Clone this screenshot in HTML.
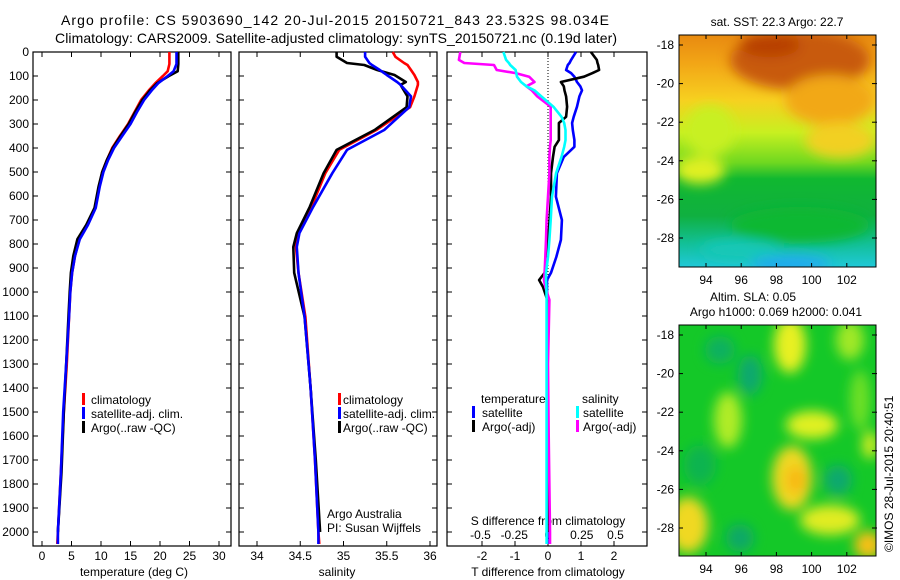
<!DOCTYPE html>
<html><head><meta charset="utf-8"><style>
html,body{margin:0;padding:0;background:#fff;width:900px;height:580px;overflow:hidden}
svg{display:block;font-family:"Liberation Sans",Arial,sans-serif}
text{fill:#000}
</style></head><body>
<svg id="root" width="900" height="580" viewBox="0 0 900 580" xmlns="http://www.w3.org/2000/svg">
<defs>
<filter id="blur6" x="-20%" y="-20%" width="140%" height="140%"><feGaussianBlur stdDeviation="6"/></filter>
<linearGradient id="sstgrad" x1="0" y1="0" x2="0" y2="1">
<stop offset="0" stop-color="#e88a10"/><stop offset="0.12" stop-color="#f2a516"/>
<stop offset="0.28" stop-color="#f7d020"/><stop offset="0.42" stop-color="#c8f020"/>
<stop offset="0.55" stop-color="#6fd820"/><stop offset="0.62" stop-color="#10b830"/>
<stop offset="0.78" stop-color="#10b040"/><stop offset="0.9" stop-color="#12c098"/>
<stop offset="1" stop-color="#20c8d8"/></linearGradient>
<clipPath id="clip1"><rect x="679" y="35" width="197" height="232"/></clipPath>
<clipPath id="clip2"><rect x="679" y="325" width="197" height="231"/></clipPath>
</defs>

<g font-size="14">
<text x="335" y="25" text-anchor="middle" textLength="548">Argo profile: CS 5903690_142 20-Jul-2015 20150721_843 23.532S 98.034E</text>
<text x="336" y="43" text-anchor="middle" textLength="562">Climatology: CARS2009. Satellite-adjusted climatology: synTS_20150721.nc (0.19d later)</text>
</g>

<g id="axes" font-size="12"></g>
<g id="series"></g>

<g font-size="12">
<rect x="82" y="393" width="3" height="12" fill="#ff0000"/><text x="91" y="404">climatology</text>
<rect x="82" y="407" width="3" height="12" fill="#0000ff"/><text x="91" y="418">satellite-adj. clim.</text>
<rect x="82" y="421" width="3" height="12" fill="#000"/><text x="91" y="432">Argo(..raw -QC)</text>
</g>
<g font-size="12">
<rect x="338" y="393" width="3" height="12" fill="#ff0000"/><text x="343" y="404">climatology</text>
<rect x="338" y="407" width="3" height="12" fill="#0000ff"/><text x="343" y="418">satellite-adj. clim.</text>
<rect x="338" y="421" width="3" height="12" fill="#000"/><text x="343" y="432">Argo(..raw -QC)</text>
</g>
<g font-size="12">
<text x="327" y="518">Argo Australia</text><text x="327" y="532">PI: Susan Wijffels</text>
</g>
<g font-size="12">
<text x="481" y="403">temperature</text>
<rect x="472" y="406" width="3" height="12" fill="#0000ff"/><text x="482" y="417">satellite</text>
<rect x="472" y="420" width="3" height="12" fill="#000"/><text x="482" y="431">Argo(-adj)</text>
<text x="582" y="403">salinity</text>
<rect x="576" y="406" width="3" height="12" fill="#00ffff"/><text x="583" y="417">satellite</text>
<rect x="576" y="420" width="3" height="12" fill="#ff00ff"/><text x="583" y="431">Argo(-adj)</text>
</g>

<g>
<text x="777" y="26" text-anchor="middle" font-size="12">sat. SST: 22.3 Argo: 22.7</text>
<g clip-path="url(#clip1)">
<rect x="679" y="35" width="197" height="232" fill="url(#sstgrad)"/>
<g filter="url(#blur6)">
<ellipse cx="800" cy="60" rx="70" ry="30" fill="#c85a08"/>
<ellipse cx="770" cy="45" rx="30" ry="12" fill="#b84004"/>
<ellipse cx="830" cy="100" rx="45" ry="25" fill="#f2a818"/>
<ellipse cx="710" cy="130" rx="25" ry="25" fill="#c8f020"/>
<ellipse cx="840" cy="140" rx="35" ry="18" fill="#f2d020"/>
<ellipse cx="700" cy="170" rx="25" ry="14" fill="#e0f020"/>
<ellipse cx="800" cy="225" rx="70" ry="18" fill="#10b830"/>
<ellipse cx="740" cy="250" rx="40" ry="10" fill="#18c8b8"/>
<ellipse cx="790" cy="264" rx="40" ry="8" fill="#20a8f0"/>
</g></g>
<rect x="679" y="35" width="197" height="232" fill="none" stroke="#000"/>
<g id="map1ticks" font-size="12"></g>
</g>

<g>
<text x="753" y="301" text-anchor="middle" font-size="12">Altim. SLA: 0.05</text>
<text x="776" y="316" text-anchor="middle" font-size="12">Argo h1000: 0.069 h2000: 0.041</text>
<g clip-path="url(#clip2)">
<rect x="679" y="325" width="197" height="231" fill="#14c828"/>
<g filter="url(#blur6)">
<ellipse cx="790" cy="345" rx="16" ry="28" fill="#e8f020"/>
<ellipse cx="850" cy="340" rx="14" ry="20" fill="#a0e828"/>
<ellipse cx="860" cy="400" rx="10" ry="30" fill="#70e028"/>
<ellipse cx="812" cy="425" rx="26" ry="14" fill="#e0f020"/>
<ellipse cx="728" cy="420" rx="14" ry="28" fill="#b0ec28"/>
<ellipse cx="792" cy="478" rx="20" ry="32" fill="#f0d820"/>
<ellipse cx="796" cy="480" rx="10" ry="14" fill="#f8b818"/>
<ellipse cx="688" cy="525" rx="20" ry="28" fill="#f0d820"/>
<ellipse cx="830" cy="520" rx="30" ry="15" fill="#e0ec20"/>
<ellipse cx="868" cy="545" rx="14" ry="14" fill="#f8c018"/>
<ellipse cx="870" cy="445" rx="8" ry="14" fill="#d0ec20"/>
<ellipse cx="750" cy="375" rx="12" ry="20" fill="#10a870"/>
<ellipse cx="720" cy="350" rx="15" ry="14" fill="#10b060"/>
<ellipse cx="838" cy="480" rx="14" ry="15" fill="#10a870"/>
<ellipse cx="740" cy="538" rx="14" ry="14" fill="#10a868"/>
<ellipse cx="700" cy="465" rx="16" ry="20" fill="#10b450"/>
</g></g>
<rect x="679" y="325" width="197" height="231" fill="none" stroke="#000"/>
<g id="map2ticks" font-size="12"></g>
</g>

<text x="0" y="0" font-size="12" transform="translate(893,552) rotate(-90)">©IMOS 28-Jul-2015 20:40:51</text>
</svg>
<script>
// ---------- data ----------
var tDepth = [0, 50, 80, 100, 130, 160, 200, 250, 300, 350, 400, 450, 500, 560, 650, 720, 780, 850, 920, 1000, 1100, 1300, 1500, 1750, 2000, 2050];
var tClim  = [21.6, 21.6, 21.3, 20.5, 19.2, 18.1, 16.8, 15.7, 14.6, 13.2, 11.9, 11.0, 10.2, 9.7, 9.0, 7.7, 6.3, 5.6, 5.1, 4.8, 4.6, 4.2, 3.7, 3.2, 2.7, 2.6];
var tSat   = [22.8, 22.8, 22.3, 21.3, 19.7, 18.6, 17.3, 16.1, 15.0, 13.6, 12.2, 11.2, 10.4, 9.8, 9.1, 7.8, 6.4, 5.6, 5.1, 4.8, 4.6, 4.1, 3.6, 3.2, 2.7, 2.7];
var tArgo  = [23.1, 23.1, 23.0, 21.5, 19.5, 18.3, 17.0, 15.8, 14.7, 13.3, 12.0, 11.0, 10.2, 9.6, 8.9, 7.5, 6.0, 5.3, 4.9, 4.7, 4.5, 4.1, 3.7, 3.3, 2.7];
var sDepth = [0, 20, 46, 54, 75, 96, 125, 137, 185, 230, 325, 408, 505, 645, 755, 812, 920, 1104, 1400, 1700, 2000, 2050];
var sClim  = [35.57, 35.6, 35.7, 35.74, 35.78, 35.82, 35.86, 35.86, 35.82, 35.77, 35.38, 34.95, 34.79, 34.63, 34.48, 34.45, 34.48, 34.56, 34.62, 34.67, 34.71, 34.72];
var sSat   = [35.25, 35.25, 35.3, 35.33, 35.42, 35.5, 35.62, 35.66, 35.78, 35.76, 35.47, 35.04, 34.87, 34.65, 34.49, 34.46, 34.48, 34.55, 34.62, 34.67, 34.71, 34.71];
var sArgo  = [34.92, 34.92, 35.04, 35.24, 35.39, 35.59, 35.72, 35.66, 35.74, 35.73, 35.36, 34.92, 34.77, 34.61, 34.46, 34.42, 34.43, 34.55, 34.62, 34.68, 34.73];
var dDepth = [0, 33, 46, 54, 75, 88, 103, 125, 143, 160, 185, 228, 270, 296, 325, 367, 395, 437, 505, 603, 700, 783, 854, 920, 950, 979, 1033, 1300, 1600, 2000, 2050];
var dTSat  = [0.85, 0.7, 0.65, 0.6, 0.55, 0.7, 0.8, 0.88, 0.98, 1.03, 0.95, 0.88, 0.78, 0.73, 0.75, 0.8, 0.8, 0.48, 0.27, 0.24, 0.42, 0.39, 0.25, 0.09, -0.03, -0.03, -0.03, -0.03, -0.02, -0.02, -0.02];
var dTArgo = [1.3, 1.48, 1.5, 1.52, 1.55, 1.35, 1.09, 0.39, 0.48, 0.5, 0.55, 0.58, 0.55, 0.33, 0.33, 0.33, 0.2, 0.15, 0.09, 0.09, 0.05, 0.0, -0.03, -0.1, -0.27, -0.15, -0.02, -0.02, -0.02, -0.02];
var dSSat  = [-0.33, -0.31, -0.29, -0.28, -0.24, -0.235, -0.23, -0.2, -0.16, -0.1, -0.05, 0.04, 0.1, 0.12, 0.13, 0.13, 0.12, 0.1, 0.06, 0.03, 0.02, 0.01, 0.0, -0.015, -0.015, -0.012, -0.01, -0.01, -0.01, -0.01, -0.01];
var dSArgo = [-0.65, -0.66, -0.62, -0.4, -0.38, -0.24, -0.14, -0.1, -0.16, -0.12, -0.08, 0.02, 0.02, 0.02, 0.02, 0.02, 0.015, 0.01, 0.01, 0.0, -0.01, -0.015, -0.02, -0.025, -0.03, -0.02, 0.01, 0.0, 0.005, 0.015, 0.015];
var depthTicks = [0,100,200,300,400,500,600,700,800,900,1000,1100,1200,1300,1400,1500,1600,1700,1800,1900,2000];
var tempTicks = [0,5,10,15,20,25,30];
var salTicks = ["34","34.5","35","35.5","36"];
var tdTicks = ["-2","-1","0","1","2"];
var sdTicks = ["-0.5","-0.25","0","0.25","0.5"];
var lonTicks = ["94","96","98","100","102"];
var lat1Ticks = ["-18","-20","-22","-24","-26","-28"];
var lat2Ticks = ["-18","-20","-22","-24","-26","-28"];

// ---------- scales ----------
var TOP=52, BOT=546;
function yD(d){ return TOP + d*0.24; }
function xT(v){ return 42 + v*5.9; }
function xS(v){ return 257 + (v-34)*86.5; }
function xTD(v){ return 548 + v*33; }
function xSD(v){ return 548 + v*135; }
function lonX(v){ return 706 + (v-94)*17.6; }
function lat1Y(v){ return 45 + (-18 - v)*19.3; }
function lat2Y(v){ return 335 + (-18 - v)*19.3; }

var NS="http://www.w3.org/2000/svg";
function mk(tag, attrs, parent){ var e=document.createElementNS(NS,tag); for(var k in attrs) e.setAttribute(k,attrs[k]); parent.appendChild(e); return e; }
var axes=document.getElementById('axes');
var series=document.getElementById('series');

var panels=[{x0:33,x1:231,name:'temperature-panel'},{x0:239,x1:437,name:'salinity-panel'},{x0:447,x1:647,name:'difference-panel'}];
panels.forEach(function(p){
  var r=mk('rect',{x:p.x0,y:TOP,width:p.x1-p.x0,height:BOT-TOP,fill:'none',stroke:'#000','stroke-width':1.2},axes);
  
  
  depthTicks.forEach(function(d){
    mk('line',{x1:p.x0,x2:p.x0+5,y1:yD(d),y2:yD(d),stroke:'#000'},axes);
    mk('line',{x1:p.x1-5,x2:p.x1,y1:yD(d),y2:yD(d),stroke:'#000'},axes);
  });
});
depthTicks.forEach(function(d){
  var t=mk('text',{x:29,y:yD(d)+4,'text-anchor':'end'},axes);
  
  
  t.textContent=d;
});
function xticks(vals, fx, ly, name){
  vals.forEach(function(v){
    var x=fx(parseFloat(v));
    mk('line',{x1:x,x2:x,y1:TOP,y2:TOP+5,stroke:'#000'},axes);
    mk('line',{x1:x,x2:x,y1:BOT-5,y2:BOT,stroke:'#000'},axes);
    var t=mk('text',{x:x,y:ly,'text-anchor':'middle'},axes);
    
    
    t.textContent=v;
  });
}
xticks(tempTicks, xT, 560, 'temperature-tick-label');
xticks(salTicks, xS, 560, 'salinity-tick-label');
xticks(tdTicks, xTD, 560, 't-diff-tick-label');
sdTicks.forEach(function(v){
  var t=mk('text',{x:xSD(parseFloat(v)),y:539,'text-anchor':'middle'},axes);
  
  
  t.textContent=v;
});
function label(x,y,s,name){ var t=mk('text',{x:x,y:y,'text-anchor':'middle'},axes);
  
  
  t.textContent=s; }
label(134,576,'temperature (deg C)','temperature-axis-title');
label(337,576,'salinity','salinity-axis-title');
label(548,576,'T difference from climatology','t-diff-axis-title');
label(548,525,'S difference from climatology','s-diff-axis-title');
var zl=mk('line',{x1:548,x2:548,y1:TOP,y2:BOT,stroke:'#000','stroke-dasharray':'1,2'},axes);



function drawLine(vals, depths, fx, color, name){
  var pts=[];
  for(var i=0;i<vals.length;i++) pts.push(fx(vals[i]).toFixed(1)+','+yD(depths[i]).toFixed(1));
  var pl=mk('polyline',{points:pts.join(' '),fill:'none',stroke:color,'stroke-width':2.6,'stroke-linejoin':'round'},series);
  
  
}
drawLine(tClim, tDepth, xT, '#ff0000', 'temperature-climatology-line');
drawLine(tArgo, tDepth, xT, '#000000', 'temperature-argo-line');
drawLine(tSat, tDepth, xT, '#0000ff', 'temperature-satellite-line');
drawLine(sClim, sDepth, xS, '#ff0000', 'salinity-climatology-line');
drawLine(sArgo, sDepth, xS, '#000000', 'salinity-argo-line');
drawLine(sSat, sDepth, xS, '#0000ff', 'salinity-satellite-line');
drawLine(dTSat, dDepth, xTD, '#0000ff', 't-diff-satellite-line');
drawLine(dTArgo, dDepth, xTD, '#000000', 't-diff-argo-line');
drawLine(dSArgo, dDepth, xSD, '#ff00ff', 's-diff-argo-line');
drawLine(dSSat, dDepth, xSD, '#00ffff', 's-diff-satellite-line');

function mapTicks(gid, y0, y1, latTicks, latY){
  var g=document.getElementById(gid);
  lonTicks.forEach(function(v){
    var x=lonX(parseFloat(v));
    mk('line',{x1:x,x2:x,y1:y0,y2:y0+4,stroke:'#000'},g);
    mk('line',{x1:x,x2:x,y1:y1-4,y2:y1,stroke:'#000'},g);
    var t=mk('text',{x:x,y:y1+17,'text-anchor':'middle'},g);
    
    
    t.textContent=v;
  });
  latTicks.forEach(function(v){
    var y=latY(parseFloat(v));
    mk('line',{x1:679,x2:683,y1:y,y2:y,stroke:'#000'},g);
    mk('line',{x1:872,x2:877,y1:y,y2:y,stroke:'#000'},g);
    var t=mk('text',{x:674,y:y+4,'text-anchor':'end'},g);
    
    
    t.textContent=v;
  });
}
mapTicks('map1ticks', 35, 267, lat1Ticks, lat1Y);
mapTicks('map2ticks', 325, 556, lat2Ticks, lat2Y);
</script>
</body></html>
